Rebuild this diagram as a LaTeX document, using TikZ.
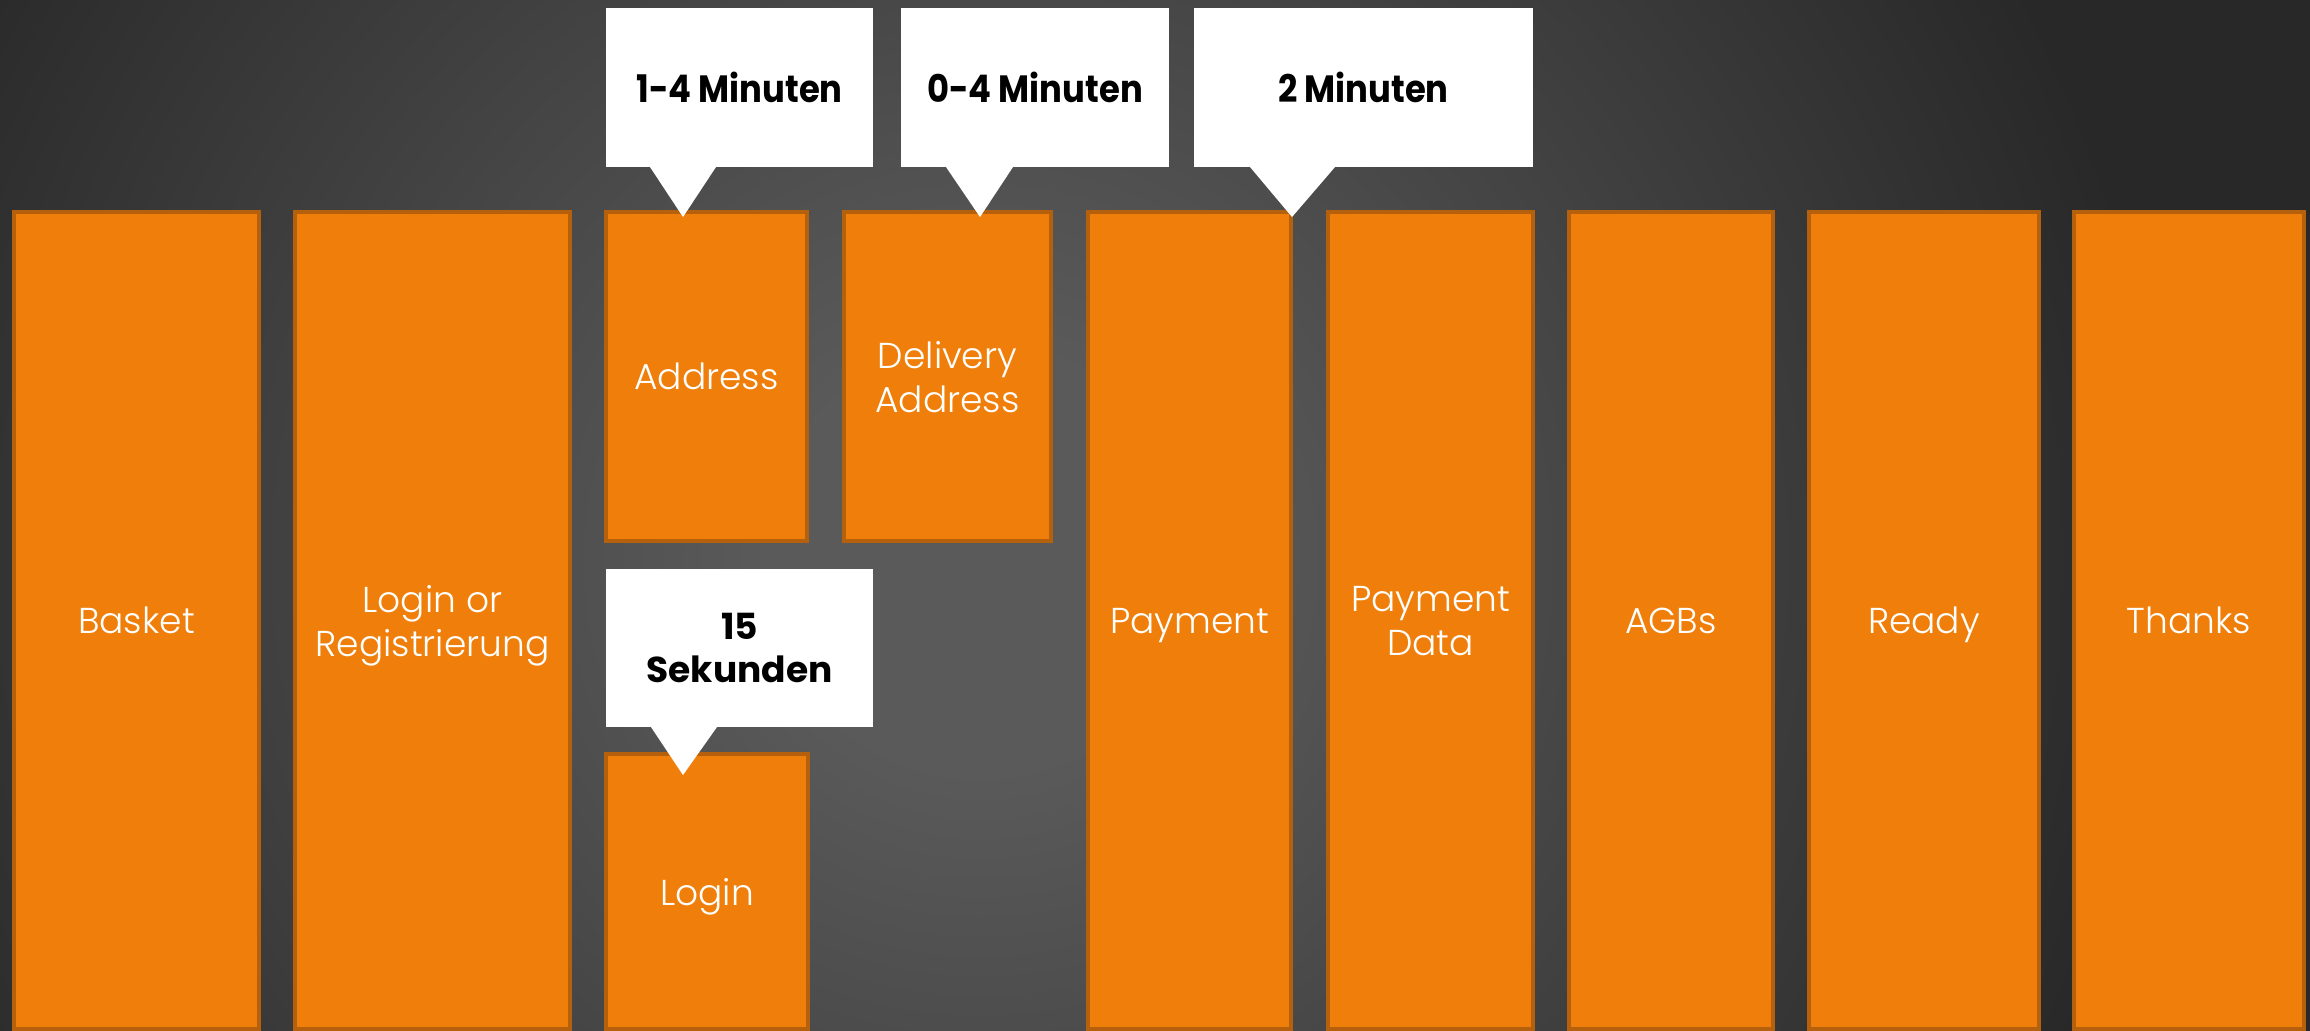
\documentclass[tikz,border=0pt]{standalone}
\usepackage{fontspec}
\setmainfont{Poppins}
\newfontfamily\lightfont{Poppins Light}
\usetikzlibrary{calc}
\definecolor{bgl}{HTML}{5A5A5A}
\definecolor{bgd}{HTML}{282828}
\definecolor{ofill}{HTML}{EF7F0A}
\definecolor{oborder}{HTML}{B5600C}
% 25bp corresponds to the circle radius
\pgfdeclareradialshading{bgshade}{\pgfpoint{0bp}{0bp}}{color(0bp)=(bgl); color(3bp)=(bgl); color(17bp)=(bgd); color(25bp)=(bgd); color(50bp)=(bgd)}
\newcommand\mkbox[6]{\node[obox, minimum width={(#4-#2-4)*0.5pt}, minimum height={(#5-#3-4)*0.5pt}] (#1) at ({#2+2},{#3+2}) {#6};}
\newcommand\mkcall[7]{\node[cbox, #7, minimum width={(#4-#2)*0.5pt}, minimum height={(#5-#3)*0.5pt}] (#1) at (#2,#3) {#6};}
\newcommand\cond[1]{\scalebox{0.89}[1]{#1}}
\begin{document}
\begin{tikzpicture}[x=0.5pt,y=-0.5pt,
  obox/.style={draw=oborder, fill=ofill, line width=2pt, inner sep=0pt, outer sep=0pt, anchor=north west, text=white, align=center, text depth=0pt, font=\lightfont\fontsize{18}{22}\selectfont},
  cbox/.style={fill=white, inner sep=0pt, outer sep=0pt, anchor=north west, text=black, align=center, text depth=0pt},
  topfont/.style={font=\bfseries\fontsize{19}{21}\selectfont},
  lowfont/.style={font=\bfseries\fontsize{18}{21.5}\selectfont},
  pointer/.style={fill=white}]
\begin{scope}
\clip (0,0) rectangle (2310,1030);
\fill[bgd] (0,0) rectangle (2310,1030);
\shade[shading=bgshade] (980,560) circle[radius=1750];
\end{scope}
\useasboundingbox (0,0) rectangle (2310,1030);
% orange boxes
\mkbox{basket}{12}{210}{261}{1031}{Basket}
\mkbox{logreg}{293}{210}{572}{1031}{Login or\\Registrierung}
\mkbox{address}{604}{210}{809}{543}{Address}
\mkbox{delivery}{842}{210}{1053}{543}{Delivery\\Address}
\mkbox{login}{604}{752}{810}{1031}{Login}
\mkbox{payment}{1086}{210}{1293}{1031}{Payment}
\mkbox{paydata}{1326}{210}{1535}{1031}{Payment\\Data}
\mkbox{agbs}{1567}{210}{1775}{1031}{AGBs}
\mkbox{ready}{1807}{210}{2041}{1031}{Ready}
\mkbox{thanks}{2072}{210}{2306}{1031}{Thanks}
% callouts
\mkcall{c1}{606}{8}{873}{167}{\cond{1-4 Minuten}}{topfont}
\mkcall{c2}{901}{8}{1169}{167}{\cond{0-4 Minuten}}{topfont}
\mkcall{c3}{1194}{8}{1533}{167}{\cond{2 Minuten}}{topfont}
\mkcall{c4}{606}{569}{873}{727}{15\\Sekunden}{lowfont}
\coordinate (t1) at (683,217);
\coordinate (t2) at (980,217);
\coordinate (t3) at (1292,217);
\coordinate (t4) at (683,775);
\fill[pointer] ($(c1.south west)+(44,0)$) -- (t1) -- ($(c1.south west)+(110,0)$) -- cycle;
\fill[pointer] ($(c2.south west)+(45,0)$) -- (t2) -- ($(c2.south west)+(112,0)$) -- cycle;
\fill[pointer] ($(c3.south west)+(56,0)$) -- (t3) -- ($(c3.south west)+(141,0)$) -- cycle;
\fill[pointer] ($(c4.south west)+(45,0)$) -- (t4) -- ($(c4.south west)+(111,0)$) -- cycle;
\end{tikzpicture}
\end{document}
